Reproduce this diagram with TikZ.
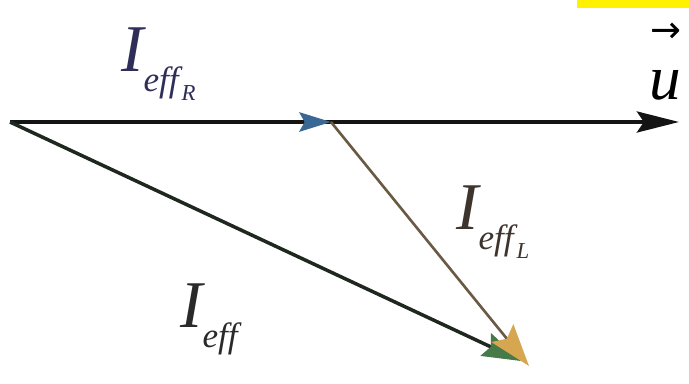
\documentclass[tikz,border=0pt]{standalone}
\usepackage{fontspec}
\setmainfont{Liberation Serif}
\newfontfamily\arrowfont{DejaVu Sans}
\usetikzlibrary{arrows.meta}
\definecolor{navy}{HTML}{2E2E58}
\definecolor{labgray}{HTML}{2A2A2A}
\definecolor{labbrown}{HTML}{3E342E}
\definecolor{bluehead}{HTML}{3A6894}
\definecolor{orangehead}{HTML}{D6A650}
\definecolor{orangeline}{HTML}{6A5A44}
\definecolor{greenhead}{HTML}{467A48}
\definecolor{diagline}{HTML}{1E281E}
\newcommand{\mainI}{{\fontsize{38}{38}\selectfont\itshape I}}
\newcommand{\subeff}{\raisebox{-11pt}{\fontsize{20}{20}\selectfont\itshape eff}}
\newcommand{\subidx}[1]{\raisebox{-16pt}{\,\fontsize{13}{13}\selectfont\itshape #1}}
\begin{document}
\begin{tikzpicture}[x=0.02cm,y=-0.02cm,
  vec/.style={line width=2pt},
  lab/.style={inner sep=0pt,anchor=base west}]
\useasboundingbox (0,0) rectangle (689,384);
\fill[yellow] (577,0) rectangle (689,8);
\coordinate (O) at (10,122);
\coordinate (R) at (331,122);
\coordinate (U) at (679,122);
\coordinate (T) at (529,366);
\coordinate (TG) at (521,361);
% u axis
\draw[vec,black!92,-{Stealth[length=24pt,width=12pt,inset=4pt]}] (O) -- (U);
% I_eff R
\draw[vec,black!92,-{Stealth[length=18pt,width=11pt,inset=3pt,color=bluehead]}] (O) -- (R);
% I_eff
\draw[vec,diagline,-{Stealth[length=22pt,width=14pt,inset=3pt,color=greenhead]}] (O) -- (TG);
% I_eff L
\draw[line width=1.5pt,orangeline,-{Stealth[length=24pt,width=16pt,inset=4pt,color=orangehead]}] (R) -- (T);
% labels
\node[lab,text=navy] (lR) at (121,72) {\mainI\subeff\subidx{R}};
\node[lab,text=labbrown] (lL) at (456,230) {\mainI\subeff\subidx{L}};
\node[lab,text=labgray] (lE) at (180,328) {\mainI\subeff};
\node[lab,text=black] (lu) at (649,100) {{\fontsize{36}{36}\selectfont\itshape u}\llap{\raisebox{33pt}{\fontsize{21}{21}\arrowfont →}}};
\end{tikzpicture}
\end{document}
